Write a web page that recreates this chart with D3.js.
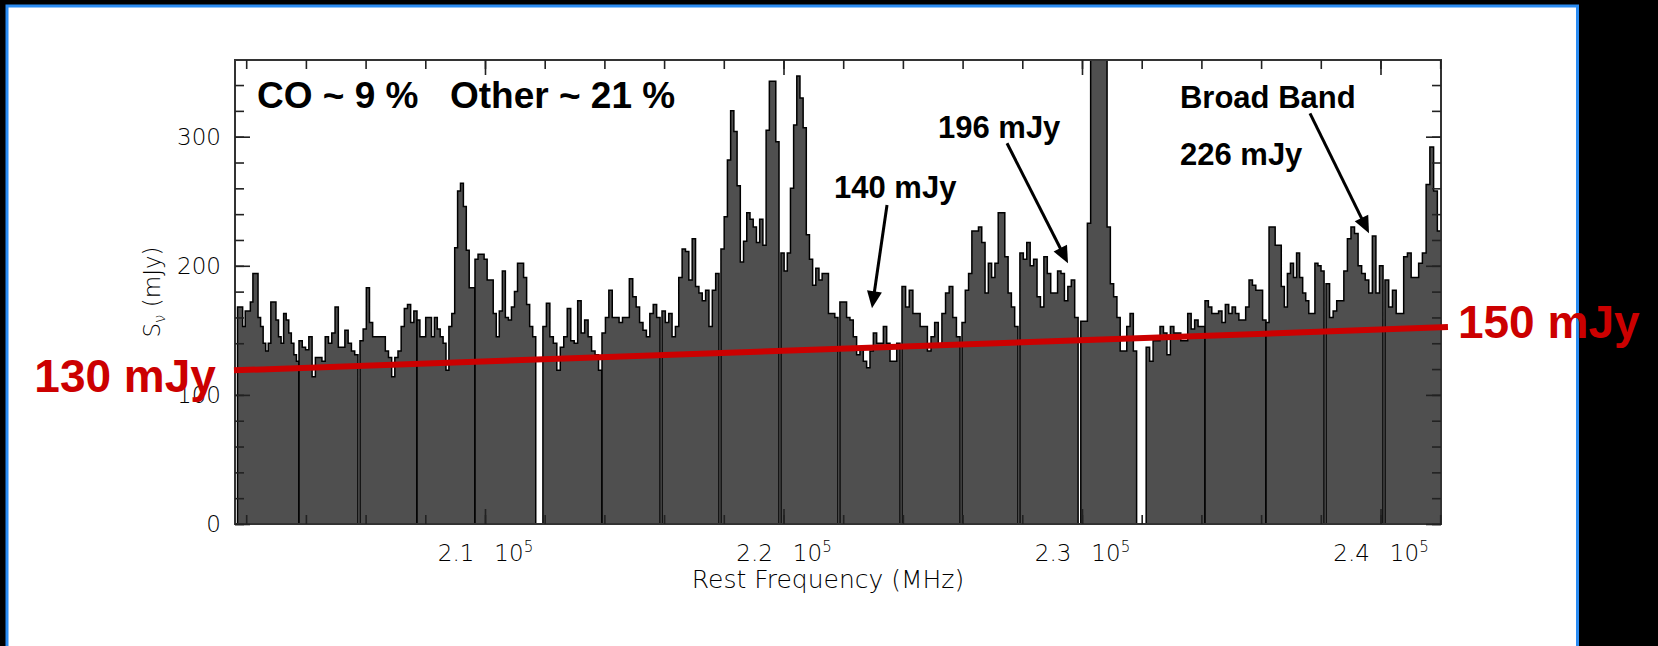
<!DOCTYPE html>
<meta charset="utf-8">
<script src="https://cdn.jsdelivr.net/npm/d3@7"></script>
<style>
    body { margin: 0; background: #000; }
    svg { display: block; }
</style>
<svg width="1658" height="646"></svg>
<script>

    // sub-band edges in MHz, channel fluxes in mJy
    var bandStart = [201710, 203769, 205812, 207722, 209665, 211940, 213920, 215930, 217905, 219915,
        221890, 223970, 225980, 227920, 229960, 232150, 234121, 236164, 238175, 240150];
    var bandEnd = [203769, 205745, 207722, 209665, 211700, 213920, 215865, 217840, 219850, 221825,
        223905, 225915, 227855, 229870, 231830, 234121, 236164, 238110, 240085, 242030];
    var bandFlux = [
        [168, 168, 153, 165, 165, 172, 194, 194, 160, 153, 140, 134, 140, 172, 172, 158, 145, 140, 163, 158, 148, 140, 131, 126],
        [142, 137, 135, 145, 114, 129, 129, 126, 145, 140, 148, 168, 137, 137, 150, 140, 134, 131],
        [142, 151, 183, 156, 145, 145, 145, 145, 134, 129, 114, 129, 134, 153, 167, 170, 156, 165],
        [158, 145, 145, 160, 160, 145, 160, 151, 145, 140, 119, 153, 163, 214, 258, 264, 246, 212, 183, 183],
        [205, 209, 209, 205, 189, 189, 163, 145, 165, 196, 160, 158, 168, 180, 202, 202, 191, 170, 153, 145],
        [153, 171, 145, 140, 119, 137, 145, 167, 142, 140, 173, 148, 158, 145, 134, 131, 119],
        [148, 160, 181, 160, 160, 156, 160, 160, 190, 176, 168, 156, 150, 145, 163, 170, 160],
        [165, 156, 163, 145, 153, 191, 213, 211, 189, 221, 184, 179, 173, 181, 153, 181, 194],
        [213, 238, 282, 320, 304, 262, 203, 219, 241, 236, 230, 218, 236, 216, 305, 343, 343, 296],
        [210, 196, 210, 260, 309, 347, 330, 307, 224, 205, 185, 198, 189, 194, 194, 163, 163, 160],
        [172, 172, 160, 158, 145, 131, 137, 126, 121, 134, 148, 140, 140, 153, 140, 126, 126, 140],
        [184, 168, 181, 163, 163, 153, 153, 134, 145, 156, 137, 163, 179, 184, 160, 145],
        [156, 181, 194, 227, 227, 230, 218, 179, 202, 191, 202, 241, 241, 207, 179, 168, 153],
        [210, 205, 218, 200, 205, 176, 168, 207, 194, 179, 179, 196, 194, 173, 184, 189, 160],
        [157, 157, 233, 900, 900, 900, 900, 900, 230, 186, 176, 160, 134, 134, 153, 163, 134],
        [137, 126, 142, 142, 153, 148, 131, 153, 148, 148, 142, 142, 163, 151, 158, 153, 153],
        [173, 168, 163, 163, 165, 156, 170, 163, 168, 163, 158, 158, 168, 189, 185, 181, 181, 158],
        [156, 230, 230, 216, 216, 184, 168, 194, 202, 191, 210, 191, 179, 173, 163, 163, 202, 200, 196],
        [186, 160, 165, 173, 173, 196, 221, 230, 225, 200, 194, 189, 179, 223, 179, 200],
        [189, 168, 181, 163, 163, 207, 210, 191, 191, 202, 210, 263, 292, 258, 227]
    ];

    // continuum fit line (red)
    var fitFreq = [201590, 242260];
    var fitFlux = [119, 152.5];
    var fitLabels = ["130 mJy", "150 mJy"];

    var yMajor = [0, 100, 200, 300];
    var yMinor = d3.range(0, 360, 20);
    var xMajor = [210000, 220000, 230000, 240000];
    var xMinor = d3.range(202000, 242001, 2000);

    var svg = d3.select("svg"),
        width = +svg.attr("width"),
        height = +svg.attr("height");

    var plotL = 235, plotR = 1441, plotT = 60, plotB = 524;

    // slide background: black with white panel and blue border
    svg.append("rect").attr("width", width).attr("height", height).attr("fill", "#000");
    svg.append("rect")
        .attr("x", 7).attr("y", 6)
        .attr("width", 1570.5).attr("height", 700)
        .attr("fill", "#fff")
        .attr("stroke", "#2b8cf2")
        .attr("stroke-width", 3);

    var x = d3.scaleLinear().domain([201625, 242027]).range([plotL, plotR]);
    var y = d3.scaleLinear().domain([0, 359.4]).range([plotB, plotT]);

    svg.append("clipPath").attr("id", "plotclip")
        .append("rect")
        .attr("x", plotL).attr("y", plotT)
        .attr("width", plotR - plotL).attr("height", plotB - plotT);

    var area = d3.area()
        .curve(d3.curveStepAfter)
        .x(function (d) { return x(d[0]); })
        .y0(y(0))
        .y1(function (d) { return y(d[1]); });

    var bands = svg.append("g").attr("clip-path", "url(#plotclip)");
    bandFlux.forEach(function (vals, i) {
        var w = (bandEnd[i] - bandStart[i]) / vals.length;
        var pts = vals.map(function (v, k) {
            return [bandStart[i] + k * w, v];
        });
        pts.push([bandEnd[i], vals[vals.length - 1]]);
        bands.append("path")
            .attr("d", area(pts))
            .attr("fill", "#4f4f4f")
            .attr("stroke", "#000")
            .attr("stroke-width", 1.5)
            .attr("stroke-linejoin", "miter");
    });

    // frame + inward ticks on all four sides
    svg.append("rect")
        .attr("x", plotL).attr("y", plotT)
        .attr("width", plotR - plotL).attr("height", plotB - plotT)
        .attr("fill", "none")
        .attr("stroke", "#333")
        .attr("stroke-width", 2);

    function tickAxis(axis, vals, size, tx, ty) {
        var g = svg.append("g").attr("transform", "translate(" + tx + "," + ty + ")");
        g.call(axis.tickValues(vals).tickSize(-size).tickFormat(""));
        g.select(".domain").remove();
        g.selectAll(".tick line").attr("stroke", "#222").attr("stroke-width", 1.6);
        return g;
    }
    tickAxis(d3.axisTop(x), xMinor, 9, 0, plotT);
    tickAxis(d3.axisTop(x), xMajor, 15, 0, plotT);
    tickAxis(d3.axisBottom(x), xMinor, 9, 0, plotB);
    tickAxis(d3.axisBottom(x), xMajor, 15, 0, plotB);
    tickAxis(d3.axisLeft(y), yMinor, 9, plotL, 0);
    tickAxis(d3.axisLeft(y), yMajor, 15, plotL, 0);
    tickAxis(d3.axisRight(y), yMinor, 9, plotR, 0);
    tickAxis(d3.axisRight(y), yMajor, 15, plotR, 0);

    var tickFont = "'DejaVu Sans', sans-serif";

    // y labels
    var gyl = svg.append("g").attr("transform", "translate(" + plotL + ",0)")
        .call(d3.axisLeft(y).tickValues(yMajor).tickSize(0).tickPadding(14));
    gyl.select(".domain").remove();
    gyl.attr("font-family", tickFont).attr("font-size", 23);
    gyl.selectAll(".tick text").attr("fill", "#000").attr("font-weight", 200);

    // x labels  "2.1  10^5"
    var gxl = svg.append("g").attr("transform", "translate(0," + plotB + ")")
        .call(d3.axisBottom(x).tickValues(xMajor).tickSize(0).tickFormat(""));
    gxl.select(".domain").remove();
    gxl.attr("font-family", tickFont).attr("font-size", 23);
    gxl.selectAll(".tick text")
        .attr("y", 37).attr("dy", null)
        .attr("fill", "#000").attr("font-weight", 200)
        .each(function (d) {
            var t = d3.select(this);
            t.append("tspan").text(d3.format(".1f")(d / 1e5));
            t.append("tspan").attr("dx", 20).text("10");
            t.append("tspan").attr("dy", -9).attr("font-size", 15).text("5");
        });

    // axis titles
    svg.append("text")
        .attr("x", 828).attr("y", 588)
        .attr("text-anchor", "middle")
        .attr("font-family", tickFont).attr("font-size", 25).attr("font-weight", 200)
        .attr("fill", "#000")
        .text("Rest Frequency (MHz)");

    var yt = svg.append("text")
        .attr("transform", "translate(160,292) rotate(-90)")
        .attr("text-anchor", "middle")
        .attr("font-family", tickFont).attr("font-size", 23).attr("font-weight", 200)
        .attr("fill", "#000");
    yt.append("tspan").text("S");
    yt.append("tspan").attr("font-size", 15).attr("dy", 5).text("\u03bd");
    yt.append("tspan").attr("dy", -5).text(" (mJy)");

    // red continuum line + labels
    svg.append("line")
        .attr("x1", x(fitFreq[0])).attr("y1", y(fitFlux[0]))
        .attr("x2", x(fitFreq[1])).attr("y2", y(fitFlux[1]))
        .attr("stroke", "#cc0000")
        .attr("stroke-width", 6);

    var boldFont = "'Liberation Sans', Arial, sans-serif";

    svg.append("text")
        .attr("x", x(fitFreq[0]) - 18).attr("y", y(fitFlux[0]) + 22)
        .attr("text-anchor", "end")
        .attr("font-family", boldFont).attr("font-weight", "bold").attr("font-size", 46)
        .attr("fill", "#cc0000")
        .text(fitLabels[0]);
    svg.append("text")
        .attr("x", x(fitFreq[1]) + 10).attr("y", y(fitFlux[1]) + 11)
        .attr("font-family", boldFont).attr("font-weight", "bold").attr("font-size", 46)
        .attr("fill", "#cc0000")
        .text(fitLabels[1]);

    // black annotations, placed in data units
    var notes = [
        {t: "CO ~ 9 %", f: 202362, v: 322.2, s: 37},
        {t: "Other ~ 21 %", f: 208828, v: 322.2, s: 37},
        {t: "140 mJy", f: 221692, v: 252.5, s: 31},
        {t: "196 mJy", f: 225176, v: 299.0, s: 31},
        {t: "Broad Band", f: 233283, v: 322.2, s: 31},
        {t: "226 mJy", f: 233283, v: 278.1, s: 31}
    ];
    svg.append("g").selectAll("text")
        .data(notes)
        .enter().append("text")
        .attr("x", function (d) { return x(d.f); })
        .attr("y", function (d) { return y(d.v); })
        .attr("font-family", boldFont).attr("font-weight", "bold")
        .attr("font-size", function (d) { return d.s; })
        .attr("fill", "#000")
        .text(function (d) { return d.t; });

    var arrows = [
        {f0: 223468, v0: 247.1, f1: 222965, v1: 167.1},
        {f0: 227488, v0: 294.9, f1: 229531, v1: 201.9},
        {f0: 237638, v0: 318.1, f1: 239615, v1: 225.2}
    ];
    var ga = svg.append("g");
    arrows.forEach(function (a) {
        var x0 = x(a.f0), y0 = y(a.v0), x1 = x(a.f1), y1 = y(a.v1);
        var dx = x1 - x0, dy = y1 - y0, len = Math.sqrt(dx * dx + dy * dy);
        var ux = dx / len, uy = dy / len;
        var hl = 17, hw = 7.5;
        var bx = x1 - ux * hl, by = y1 - uy * hl;
        ga.append("line")
            .attr("x1", x0).attr("y1", y0)
            .attr("x2", bx + ux * 2).attr("y2", by + uy * 2)
            .attr("stroke", "#000").attr("stroke-width", 3);
        ga.append("path")
            .attr("d", "M" + x1 + "," + y1 +
                "L" + (bx - uy * hw) + "," + (by + ux * hw) +
                "L" + (bx + uy * hw) + "," + (by - ux * hw) + "Z")
            .attr("fill", "#000");
    });

</script>
